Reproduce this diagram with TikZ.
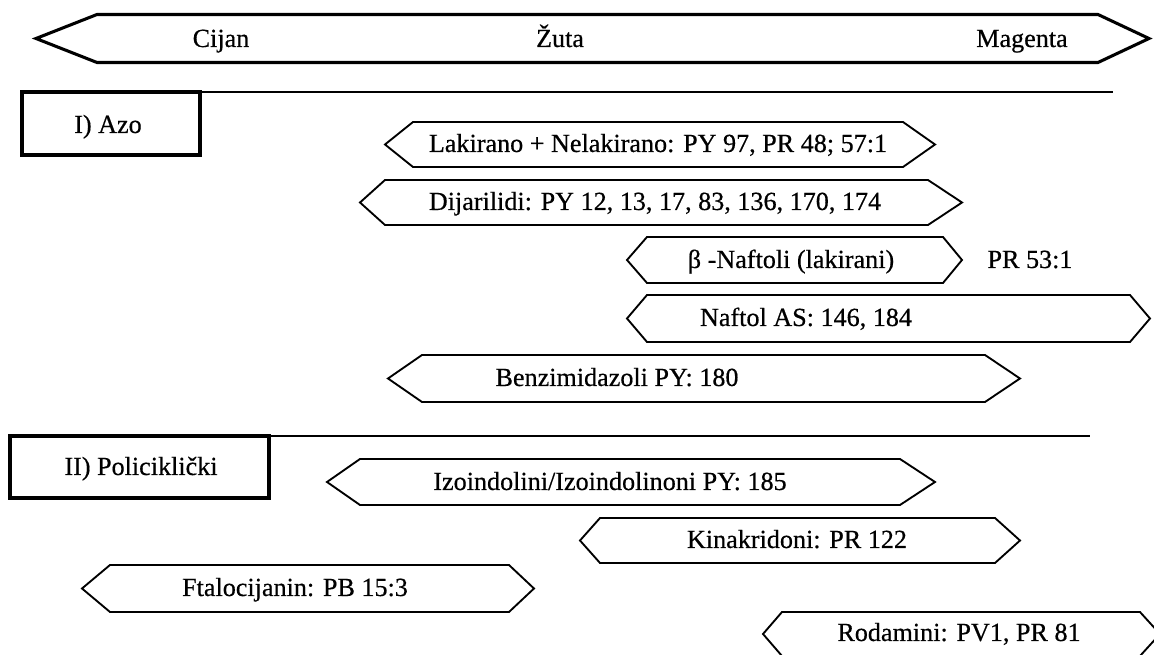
\documentclass[tikz,border=0pt]{standalone}
\usepackage{fontspec}
\setmainfont{Liberation Serif}[FakeBold=0.5]
\begin{document}
\begin{tikzpicture}[x=0.75pt,y=-0.75pt,
  big/.style={draw=black,line width=2.3pt,line join=miter},
  sep/.style={draw=black,line width=1.8pt},
  hex/.style={draw=black,line width=1.4pt,line join=miter},
  lbl/.style={inner sep=0pt,anchor=base,font=\fontsize{19.6}{23}\selectfont}]
\useasboundingbox (0,0) rectangle (1154,655);
\fill[white] (0,0) rectangle (1154,655);
\newcommand{\hexa}[7]{\draw[hex] (#1,#7) -- (#2,#5) -- (#3,#5) -- (#4,#7) -- (#3,#6) -- (#2,#6) -- cycle;}
% top arrow
\draw[big] (36,38.5) -- (97,14.5) -- (1098,14.5) -- (1149,38.5) -- (1098,62.5) -- (97,62.5) -- cycle;
\node[lbl] (cijan) at (221,47) {Cijan};
\node[lbl] (zuta) at (560,47) {Žuta};
\node[lbl] (magenta) at (1022,47) {Magenta};
% section I
\draw[sep] (22,92) -- (1113,92);
\draw[big] (22,92) rectangle (200,155);
\node[lbl] (azo) at (108,133) {I) Azo};
\hexa{385}{413}{903}{935}{122}{167}{144.5}
\node[lbl] (lak) at (658,152) {Lakirano + Nelakirano: PY 97, PR 48; 57:1};
\hexa{360}{385}{928}{962}{180}{225}{202.5}
\node[lbl] (dij) at (655,210) {Dijarilidi: PY 12, 13, 17, 83, 136, 170, 174};
\hexa{627}{647}{943}{962}{237}{283}{260}
\node[lbl] (bnaf) at (791,268) {β -Naftoli (lakirani)};
\node[lbl] (pr53) at (1030,268) {PR 53:1};
\hexa{627}{647}{1130}{1150}{295}{342}{318.5}
\node[lbl] (nafas) at (806,326) {Naftol AS: 146, 184};
\hexa{388}{422}{985}{1020}{355}{402}{378.5}
\node[lbl] (benz) at (617,386) {Benzimidazoli PY: 180};
% section II
\draw[sep] (10,436) -- (1090,436);
\draw[big] (10,436) rectangle (269,498);
\node[lbl] (poli) at (141,475) {II) Policiklički};
\hexa{327}{360}{900}{935}{459}{505}{482}
\node[lbl] (izo) at (610,490) {Izoindolini/Izoindolinoni PY: 185};
\hexa{580}{600}{995}{1020}{518}{563}{540.5}
\node[lbl] (kin) at (797,548) {Kinakridoni: PR 122};
\hexa{82}{110}{509}{534}{565}{612}{588.5}
\node[lbl] (fta) at (295,596) {Ftalocijanin: PB 15:3};
\hexa{763}{782}{1140}{1160}{612}{656}{634}
\node[lbl] (rod) at (959,641) {Rodamini: PV1, PR 81};
\end{tikzpicture}
\end{document}
